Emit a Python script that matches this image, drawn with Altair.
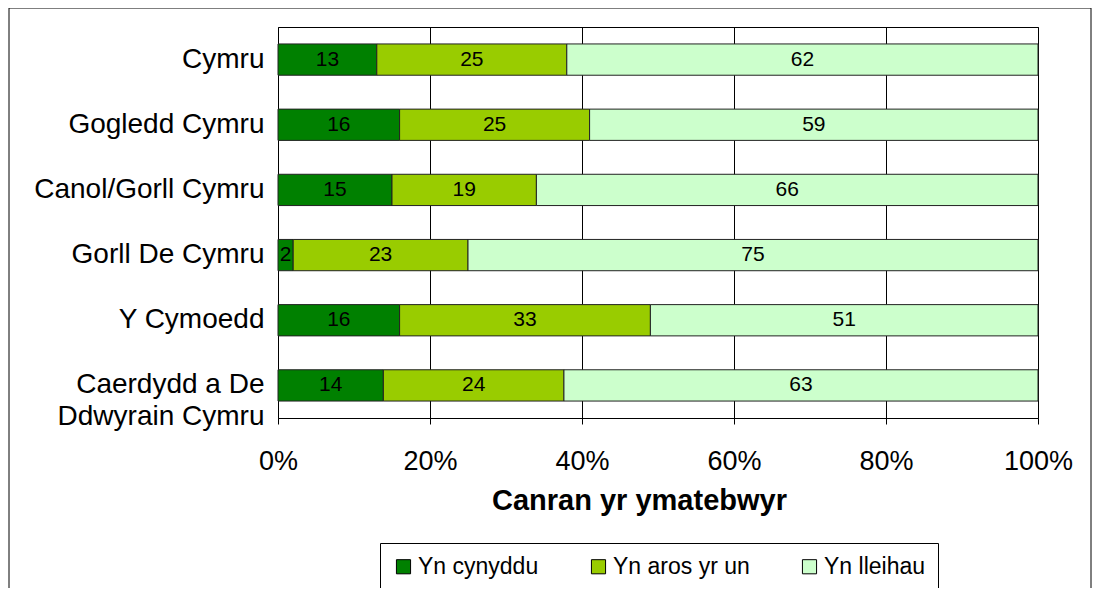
import altair as alt
import pandas as pd

regions = ["Cymru", "Gogledd Cymru", "Canol/Gorll Cymru", "Gorll De Cymru",
           "Y Cymoedd", "Caerdydd a De Ddwyrain Cymru"]
series = ["Yn cynyddu", "Yn aros yr un", "Yn lleihau"]
inc = [13, 16, 15, 2, 16, 14]
same = [25, 25, 19, 23, 33, 24]
dec = [62, 59, 66, 75, 51, 63]
colors = ["#008000", "#99CC00", "#CCFFCC"]
ticks = [0, 0.2, 0.4, 0.6, 0.8, 1.0]

rows = []
for i, r in enumerate(regions):
    for j, (s, vals) in enumerate(zip(series, [inc, same, dec])):
        rows.append({"region": r, "series": s, "order": j, "value": vals[i]})
df = pd.DataFrame(rows)

FONT = "Liberation Sans"

base = alt.Chart(df).transform_stack(
    stack="value", groupby=["region"], as_=["x0", "x1"],
    offset="normalize", sort=[alt.SortField("order")]
).transform_calculate(mid="(datum.x0 + datum.x1) / 2")

yenc = alt.Y("region:N", sort=regions,
             scale=alt.Scale(paddingInner=0.52, paddingOuter=0.26),
             axis=alt.Axis(title=None, ticks=False, domain=False,
                           labelFontSize=28, labelPadding=14, labelColor="black",
                           labelLimit=400, labelLineHeight=32,
                           labelExpr="datum.label == 'Caerdydd a De Ddwyrain Cymru' ? ['Caerdydd a De', 'Ddwyrain Cymru'] : datum.label"))

bars = base.mark_bar(stroke="#222222", strokeWidth=1).encode(
    x=alt.X("x0:Q", scale=alt.Scale(domain=[0, 1], nice=False),
            axis=alt.Axis(values=ticks, format=".0%", title="Canran yr ymatebwyr",
                          titleFontSize=29, titleFontWeight="bold", titleColor="black",
                          titlePadding=12, titleX=361, titleAlign="center",
                          labelFontSize=27, labelColor="black", labelPadding=24,
                          tickSize=6, tickColor="black", domain=False,
                          grid=True, gridColor="black", gridWidth=1,
                          labelFlush=False)),
    x2="x1:Q",
    y=yenc,
    color=alt.Color("series:N", sort=series,
                    scale=alt.Scale(domain=series, range=colors),
                    legend=alt.Legend(title=None, orient="none", direction="horizontal",
                                      legendX=102, legendY=516,
                                      labelFontSize=23, labelColor="black",
                                      symbolType="square", symbolSize=200,
                                      symbolStrokeColor="black", symbolStrokeWidth=1,
                                      symbolOpacity=1, columnPadding=48,
                                      strokeColor="black", padding=12,
                                      labelOffset=3)),
    order=alt.Order("order:Q"),
)

text = base.mark_text(fontSize=21, color="black").encode(
    x="mid:Q",
    y=alt.Y("region:N", sort=regions),
    text="value:Q",
)

frame = alt.Chart(alt.Data(values=[{}])).mark_rect(
    fill=None, stroke="black", strokeWidth=1
).encode(
    x=alt.value(-269), x2=alt.value(813),
    y=alt.value(-19), y2=alt.value(600),
)

chart = alt.layer(bars, text, frame).properties(
    width=760, height=391,
    padding={"left": 270, "top": 19, "right": 55, "bottom": 170},
    autosize=alt.AutoSizeParams(type="none"),
).configure(font=FONT).configure_view(stroke="black", strokeWidth=1)

chart.save("out.html", embed_options={"renderer": "svg", "actions": False})
